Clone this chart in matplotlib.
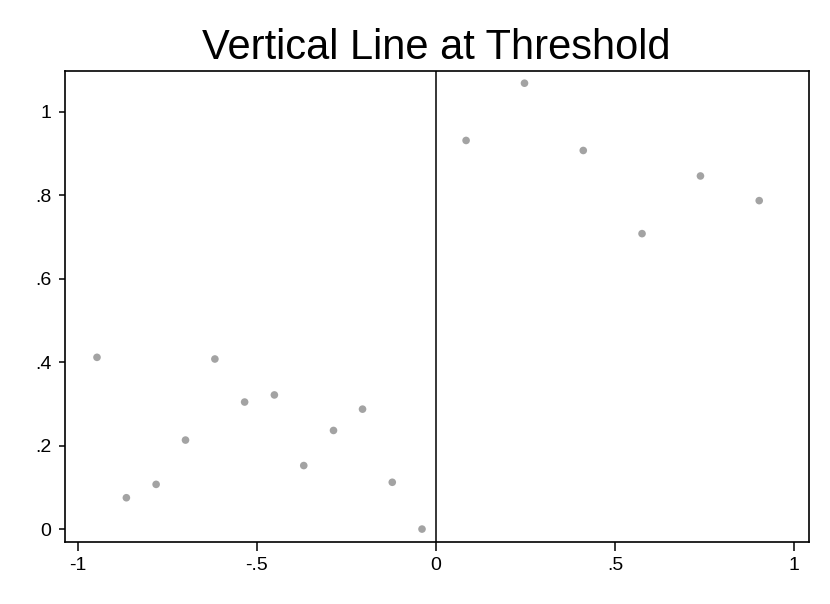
import matplotlib
matplotlib.use("Agg")
import matplotlib.pyplot as plt

# running variable and outcome
x_left = [-0.946, -0.864, -0.781, -0.699, -0.617, -0.534, -0.451, -0.369, -0.286, -0.205, -0.122, -0.039]
y_left = [0.412, 0.076, 0.108, 0.214, 0.408, 0.305, 0.322, 0.153, 0.237, 0.288, 0.113, 0.001]
x_right = [0.084, 0.247, 0.411, 0.575, 0.738, 0.902]
y_right = [0.931, 1.068, 0.907, 0.708, 0.846, 0.787]

threshold = 0
xticks = [-1, -0.5, 0, 0.5, 1]
xtick_labels = ["-1", "-.5", "0", ".5", "1"]
yticks = [0, 0.2, 0.4, 0.6, 0.8, 1]
ytick_labels = ["0", ".2", ".4", ".6", ".8", "1"]

plt.rcParams['font.family'] = ['Liberation Sans', 'DejaVu Sans']

fig = plt.figure(figsize=(8.3, 6.04), dpi=100)
ax = fig.add_axes([0.078, 0.1026, 0.8963, 0.7804])

ax.scatter(x_left + x_right, y_left + y_right, s=30, color="#a3a3a3",
           edgecolors="none", zorder=3)
ax.axvline(threshold, color="black", linewidth=1.1, zorder=2)

ax.set_xlim(-1.036, 1.040)
ax.set_ylim(-0.030, 1.098)
ax.set_xticks(xticks)
ax.set_xticklabels(xtick_labels)
ax.set_yticks(yticks)
ax.set_yticklabels(ytick_labels)
ax.tick_params(axis="x", length=6.5, width=1.1, pad=4.5, labelsize=14)
ax.tick_params(axis="y", length=4, width=1.1, pad=5.5, labelsize=14)
for sp in ax.spines.values():
    sp.set_linewidth(1.2)

ax.set_title("Vertical Line at Threshold", fontsize=30, pad=8.4)

fig.savefig("out.png", dpi=100)
